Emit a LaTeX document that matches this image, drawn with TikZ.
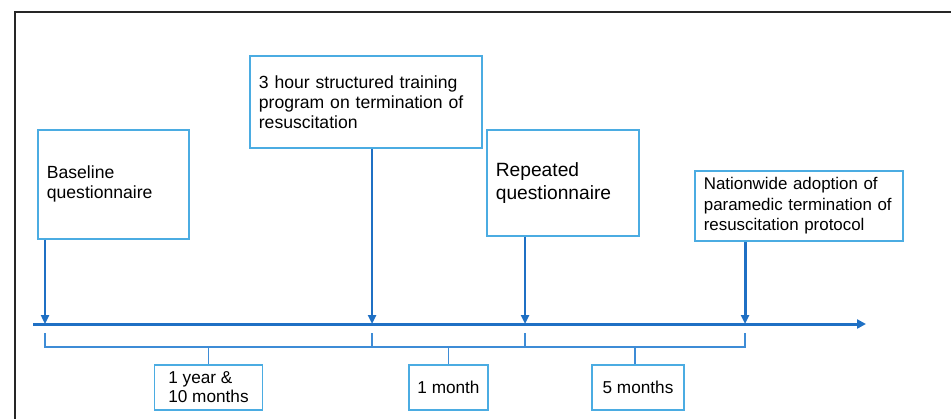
\documentclass[tikz,border=0pt]{standalone}
\usepackage{fontspec}
\setmainfont{Liberation Sans}
\usetikzlibrary{arrows.meta,positioning}
\definecolor{boxblue}{RGB}{75,172,226}
\definecolor{axisblue}{RGB}{31,112,196}
\definecolor{spanblue}{RGB}{62,140,214}

\begin{document}
\begin{tikzpicture}[x=0.5pt,y=-0.5pt,
		event/.style={rectangle,draw=boxblue,line width=0.85pt,align=left,inner xsep=4.5pt,anchor=north west,font=\fontsize{8.8}{10}\selectfont},
		gap/.style={rectangle,draw=boxblue,line width=0.85pt,align=left,minimum height=22.5pt,anchor=north,font=\fontsize{8.6}{9.5}\selectfont},
		hit/.style={draw=axisblue,line width=1.15pt,-{Triangle[length=4.5pt,width=4pt]}},
		span/.style={draw=spanblue,line width=0.85pt}]
		\useasboundingbox (0,0) rectangle (951,419);
		\draw[line width=1.1pt,black!85] (951,12) -- (15,12) -- (15,419);

		% events above the time line
		\node[event,text width=66.5pt,minimum height=54.5pt] (base) at (37,129) {Baseline\\questionnaire};
		\node[event,text width=107pt,minimum height=46pt] (train) at (249,55) {3 hour structured training\\program on termination of\\resuscitation};
		\node[event,text width=67pt,minimum height=53pt,font=\fontsize{9.6}{11.5}\selectfont] (again) at (486,129) {Repeated\\questionnaire};
		\node[event,text width=95pt,minimum height=34pt,font=\fontsize{8.45}{10.25}\selectfont] (adopt) at (694,170) {Nationwide adoption of\\paramedic termination of\\resuscitation protocol};

		% time line
		\coordinate (t0) at (33,324);
		\coordinate (tend) at (866,324);
		\coordinate (p1) at (45,324);
		\coordinate (p2) at (372,324);
		\coordinate (p3) at (525,324);
		\coordinate (p4) at (745,324);
		\draw[draw=axisblue,line width=1.5pt,-{Triangle[length=4.5pt,width=4.5pt]}] (t0) -- (tend);

		\draw[hit] (base.south -| p1) -- (p1);
		\draw[hit] (train.south -| p2) -- (p2);
		\draw[hit] (again.south -| p3) -- (p3);
		\draw[hit,line width=1.5pt] (adopt.south -| p4) -- (p4);

		% intervals below the time line
		\node[gap,minimum width=54pt] (gap1) at (208.5,364) {1 year \&\\10 months};
		\node[gap,minimum width=39.5pt] (gap2) at (448.5,364) {1 month};
		\node[gap,minimum width=46pt] (gap3) at (638,364) {5 months};

		\draw[span] ([yshift=-4.5pt]p1) -- ++(0,14) -| ([yshift=-4.5pt]p2);
		\draw[span] ([yshift=-4.5pt]p2) -- ++(0,14) -| ([yshift=-4.5pt]p3);
		\draw[span] ([yshift=-4.5pt]p3) -- ++(0,14) -| ([yshift=-4.5pt]p4);
		\draw[span] (gap1.north) -- ++(0,-17);
		\draw[span] (gap2.north) -- ++(0,-17);
		\draw[span] (gap3.north -| 635,0) -- ++(0,-17);
\end{tikzpicture}
\end{document}
